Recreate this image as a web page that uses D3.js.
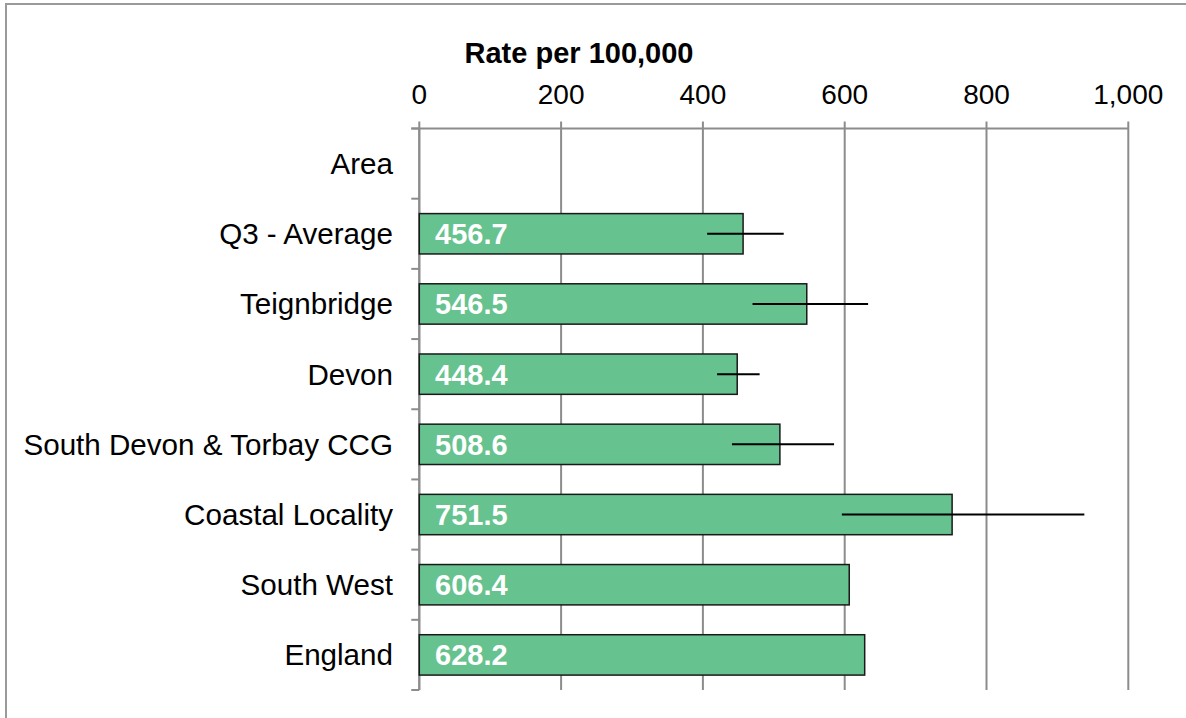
<!DOCTYPE html>
<html>
<head>
<meta charset="utf-8">
<script src="https://cdn.jsdelivr.net/npm/d3@7"></script>
<style>
  html, body { margin: 0; padding: 0; background: #fff; }
  svg { display: block; font-family: "Liberation Sans", Arial, sans-serif; }
</style>
</head>
<body>
<svg id="chart" width="1186" height="718"></svg>
<script>
const categories = ["Area", "Q3 - Average", "Teignbridge", "Devon", "South Devon & Torbay CCG", "Coastal Locality", "South West", "England"];
const values = [null, 456.7, 546.5, 448.4, 508.6, 751.5, 606.4, 628.2];
const lowerCI = [null, 406, 470, 420, 441, 596, null, null];
const upperCI = [null, 514, 633, 480, 585, 938, null, null];
const xTicks = [0, 200, 400, 600, 800, 1000];
const axisTitle = "Rate per 100,000";

(function () {
const data = categories.map((c, i) => ({ cat: c, v: values[i], lo: lowerCI[i], hi: upperCI[i] }));

const svg = d3.select("#chart");
const pLeft = 419.3, pRight = 1128.3, pTop = 128.5, pBottom = 690;

// outer frame (only left/top visible)
svg.append("rect").attr("x", 6).attr("y", 4).attr("width", 1400).attr("height", 1000)
  .attr("fill", "none").attr("stroke", "#9a9a9a").attr("stroke-width", 2);

const x = d3.scaleLinear().domain([0, 1000]).range([pLeft, pRight]);
const y = d3.scaleBand().domain(categories).range([pTop, pBottom]).padding(0);
const barH = y.bandwidth() * 0.575;

// gridlines
svg.append("g").selectAll("line").data(xTicks).join("line")
  .attr("x1", d => x(d)).attr("x2", d => x(d))
  .attr("y1", pTop - 7).attr("y2", pBottom)
  .attr("stroke", "#8c8c8c").attr("stroke-width", 2);

// top axis line
svg.append("line").attr("x1", pLeft - 8).attr("x2", pRight).attr("y1", pTop).attr("y2", pTop)
  .attr("stroke", "#8c8c8c").attr("stroke-width", 2);

// left axis line + ticks at band boundaries
svg.append("line").attr("x1", pLeft).attr("x2", pLeft).attr("y1", pTop).attr("y2", pBottom)
  .attr("stroke", "#8c8c8c").attr("stroke-width", 2);
const bounds = categories.map(c => y(c)).concat([pBottom]);
svg.append("g").selectAll("line").data(bounds).join("line")
  .attr("x1", pLeft - 8).attr("x2", pLeft).attr("y1", d => d).attr("y2", d => d)
  .attr("stroke", "#8c8c8c").attr("stroke-width", 2);

// tick labels
svg.append("g").selectAll("text").data(xTicks).join("text")
  .attr("x", d => x(d)).attr("y", 104)
  .attr("text-anchor", "middle").attr("font-size", 28).attr("fill", "#000")
  .text(d => d3.format(",")(d));

// axis title
svg.append("text").attr("x", 579).attr("y", 62.5).attr("text-anchor", "middle")
  .attr("font-size", 29).attr("font-weight", "bold").attr("fill", "#000").text(axisTitle);

// category labels
svg.append("g").selectAll("text").data(data).join("text")
  .attr("x", 393).attr("y", d => y(d.cat) + y.bandwidth() / 2)
  .attr("dy", "0.35em").attr("text-anchor", "end").attr("font-size", 29.6).attr("fill", "#000")
  .text(d => d.cat);

const withVal = data.filter(d => d.v != null);

// bars
svg.append("g").selectAll("rect").data(withVal).join("rect")
  .attr("x", x(0)).attr("y", d => y(d.cat) + (y.bandwidth() - barH) / 2)
  .attr("width", d => x(d.v) - x(0)).attr("height", barH)
  .attr("fill", "#66c28e").attr("stroke", "#1a1a1a").attr("stroke-width", 1.5);

// error bars
svg.append("g").selectAll("line").data(withVal.filter(d => d.lo != null)).join("line")
  .attr("x1", d => x(d.lo)).attr("x2", d => x(d.hi))
  .attr("y1", d => y(d.cat) + y.bandwidth() / 2).attr("y2", d => y(d.cat) + y.bandwidth() / 2)
  .attr("stroke", "#000").attr("stroke-width", 2);

// value labels
svg.append("g").selectAll("text").data(withVal).join("text")
  .attr("x", 435).attr("y", d => y(d.cat) + y.bandwidth() / 2)
  .attr("dy", "0.36em").attr("font-size", 29).attr("font-weight", "bold").attr("fill", "#fff")
  .text(d => d.v.toFixed(1));
})();
</script>
</body>
</html>
